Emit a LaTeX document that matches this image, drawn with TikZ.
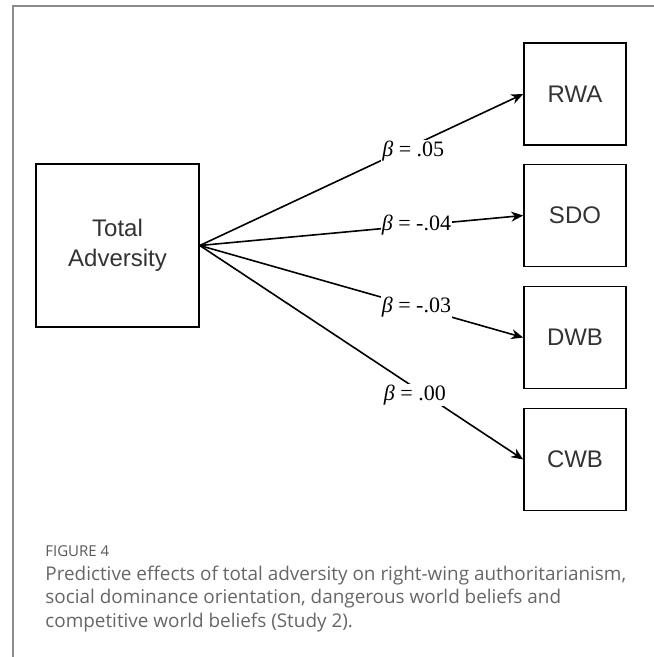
\documentclass[tikz,border=0pt]{standalone}
\usepackage{fontspec}
\setmainfont{Liberation Sans}
\newfontfamily\betafont{Liberation Serif}
\newfontfamily\capfont{Open Sans}
\usetikzlibrary{arrows.meta}
\begin{document}
\begin{tikzpicture}[x=1pt,y=-1pt,thick,>={Stealth[length=12pt,width=10pt]},
 box/.style={draw,line width=1.6pt,minimum width=102pt,minimum height=102pt,inner sep=0pt,text=black!80,font=\fontsize{24}{30}\selectfont},
 coef/.style={fill=white,inner sep=1pt,font=\betafont\fontsize{22}{22}\selectfont}]
\useasboundingbox (0,0) rectangle (654,657);
\draw[black!45,line width=2pt](12.5,657)--(12.5,6)--(654,6);
\node[box,minimum width=163pt,minimum height=163pt,align=center](TA)at(117.5,245.5){Total\\Adversity};
\foreach \n/\y in {RWA/94,SDO/215.5,DWB/337.5,CWB/459.5}
\node[box](\n)at(575,\y){\n};
\foreach \n/\b/\p/\s in {RWA/.05/0.66/-6,SDO/-.04/0.67/0,DWB/-.03/0.67/0,CWB/.00/0.665/-7}
\draw[->,line width=1.6pt](TA.east)--node[coef,pos=\p,yshift=\s pt]{\textit{β} = \b}(\n.west);
\node[anchor=base west,inner sep=0pt,text=black!65,font=\capfont\fontsize{15}{16}\selectfont](fig)at(45,556){FIGURE 4};
\node[anchor=base west,align=left,inner sep=0pt,text=black!60,font=\capfont\fontsize{18.9}{23.5}\selectfont](cap)at(45,627){Predictive effects of total adversity on right-wing authoritarianism,\\social dominance orientation, dangerous world beliefs and\\competitive world beliefs (Study 2).};
\end{tikzpicture}
\end{document}
